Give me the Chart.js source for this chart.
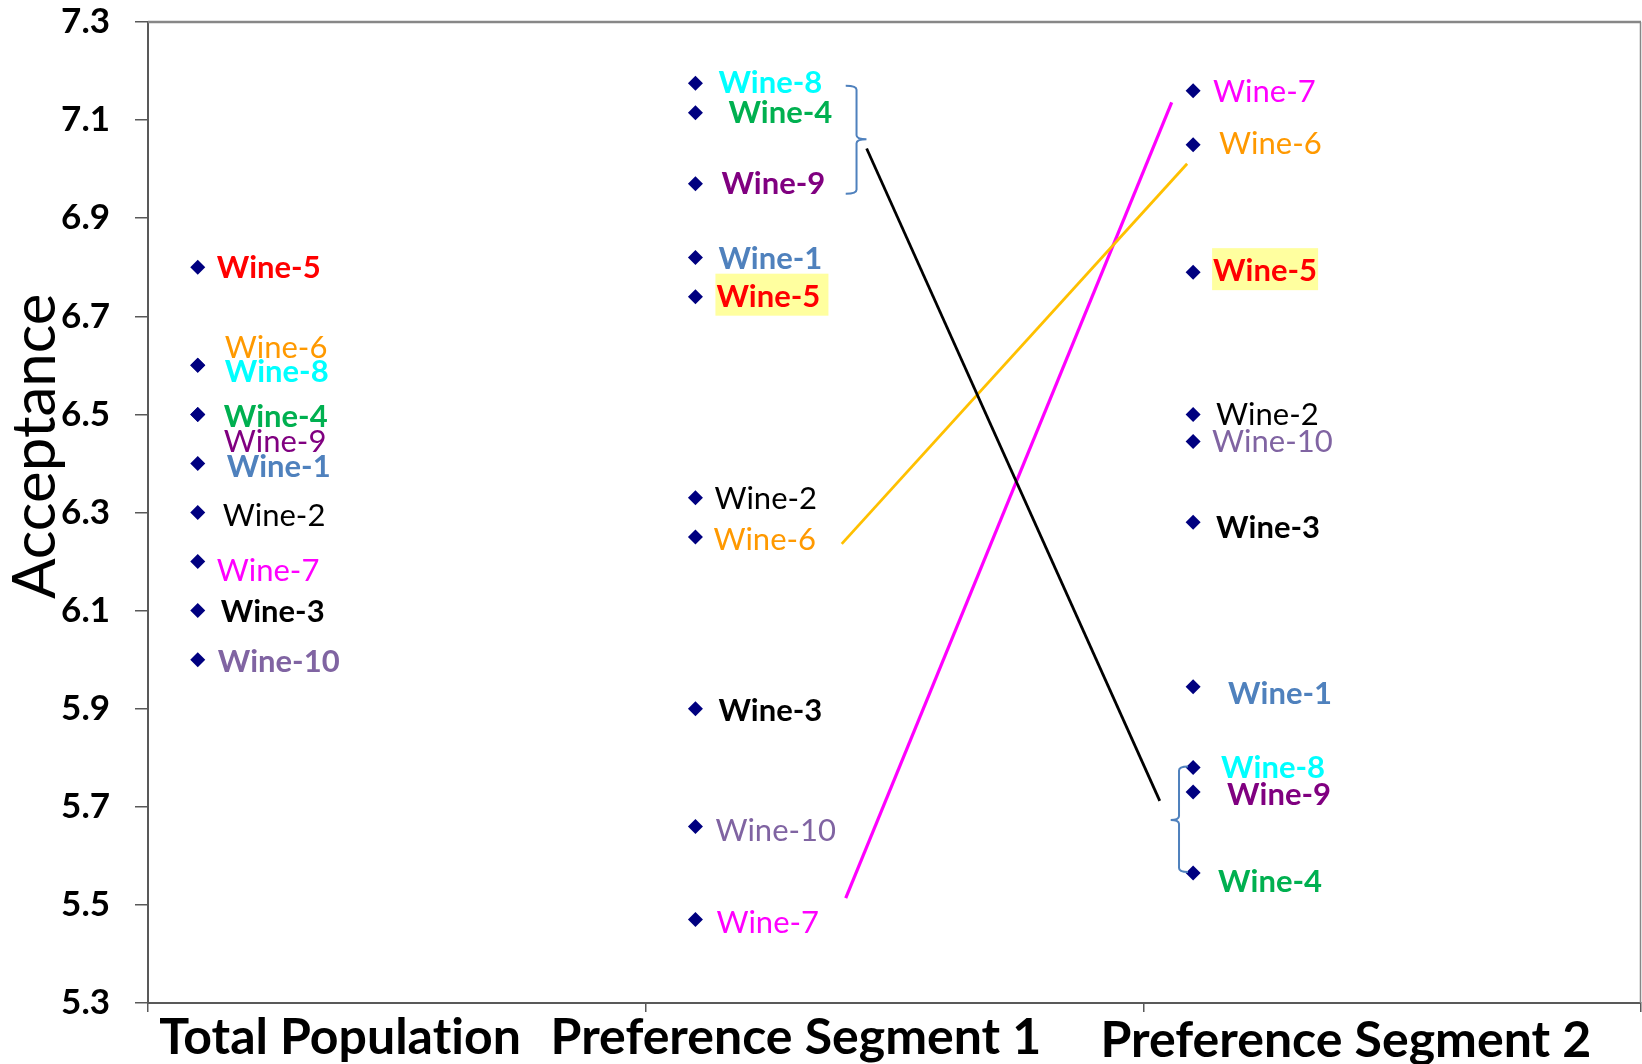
<!DOCTYPE html>
<html>
<head>
<meta charset="utf-8">
<script src="https://cdn.jsdelivr.net/npm/chart.js@4.4.1/dist/chart.umd.min.js"></script>
<style>
  html, body { margin: 0; padding: 0; background: #ffffff; }
  #wrap { width: 1642px; height: 1064px; }
</style>
</head>
<body>
<div id="wrap"><canvas id="chart" width="1642" height="1064"></canvas></div>
<script>
// ---- data ----
const categories = ['Total Population', 'Preference Segment 1', 'Preference Segment 2'];
const wines = ['Wine-1', 'Wine-2', 'Wine-3', 'Wine-4', 'Wine-5', 'Wine-6', 'Wine-7', 'Wine-8', 'Wine-9', 'Wine-10'];
const totalPopulation    = [6.40, 6.30, 6.10, 6.50, 6.80, 6.60, 6.20, 6.60, 6.50, 6.00];
const preferenceSegment1 = [6.82, 6.33, 5.90, 7.115, 6.74, 6.25, 5.47, 7.175, 6.97, 5.66];
const preferenceSegment2 = [5.945, 6.50, 6.28, 5.565, 6.79, 7.05, 7.16, 5.78, 5.73, 6.445];
const yTickValues = [5.3, 5.5, 5.7, 5.9, 6.1, 6.3, 6.5, 6.7, 6.9, 7.1, 7.3];

// connector lines between segment 1 and segment 2 (x in group units, y in acceptance)
const clusterShift = [{ x: 1.444, y: 7.042 }, { x: 2.033, y: 5.712 }];
const wine6Shift   = [{ x: 1.394, y: 6.236 }, { x: 2.088, y: 7.011 }];
const wine7Shift   = [{ x: 1.402, y: 5.514 }, { x: 2.057, y: 7.136 }];

// ---- styling ----
const groups = [totalPopulation, preferenceSegment1, preferenceSegment2];
const markerOffset = 0.1;
const wineColors = ['#4F81BD', '#000000', '#000000', '#00B050', '#FF0000',
                    '#FF9900', '#FF00FF', '#00FFFF', '#800080', '#8064A2'];
const labelBold = [
  [1, 0, 1, 1, 1, 0, 0, 1, 0, 1],
  [1, 0, 1, 1, 1, 0, 0, 1, 1, 0],
  [1, 0, 1, 1, 1, 0, 0, 1, 1, 0]
];
// label offsets from the marker, in pixels [dx, dy]
const labelOffsets = [
  [[29, 2], [25, 2], [23, 0], [26, 2], [19, 0], [27, -18], [19, 8], [27, 6], [26, 27], [20, 1]],
  [[23, 0], [19, 0], [23, 1], [33, -1], [21, -1], [18, 2], [21, 2], [23, -1], [26, -1], [20, 3]],
  [[35, 6], [23, 0], [23, 5], [25, 8], [20, -2], [26, -2], [20, 0], [28, -1], [34, 2], [19, 0]]
];
// highlighted labels: [group, wine index, box width]
const highlights = [[1, 4, 113], [2, 4, 106]];
// curly brackets grouping wines: spine x, hook x, tip x, top, bottom, tip y
const brackets = [
  { spine: 1.4237, hook: 1.402, tip: 1.4437, top: 7.170, bottom: 6.950, mid: 7.061 },
  { spine: 2.0717, hook: 2.0898, tip: 2.055, top: 5.782, bottom: 5.567, mid: 5.673 }
];
const categoryLabelX = [0.386, 1.302, 2.407];
const categoryBaseline = [51, 51, 54];

const FONT = 'Lato';
const labelSize = 31;

function plainText(ctx) {
  // no ligatures ("ti") in drawn text
  if ('textRendering' in ctx) ctx.textRendering = 'optimizeSpeed';
}

function drawBracket(ctx, x, y, b) {
  const xs = x.getPixelForValue(b.spine);
  const xh = x.getPixelForValue(b.hook);
  const xt = x.getPixelForValue(b.tip);
  const yt = y.getPixelForValue(b.top);
  const yb = y.getPixelForValue(b.bottom);
  const ym = y.getPixelForValue(b.mid);
  const r = 4;
  ctx.beginPath();
  ctx.moveTo(xh, yt);
  ctx.quadraticCurveTo(xs, yt, xs, yt + r);
  ctx.lineTo(xs, ym - r);
  ctx.quadraticCurveTo(xs, ym, xt, ym);
  ctx.quadraticCurveTo(xs, ym, xs, ym + r);
  ctx.lineTo(xs, yb - r);
  ctx.quadraticCurveTo(xs, yb, xh, yb);
  ctx.stroke();
}

const annotations = {
  id: 'wineAnnotations',
  afterDatasetsDraw(chart) {
    const { ctx, scales: { x, y } } = chart;
    ctx.save();
    plainText(ctx);
    // brackets
    ctx.strokeStyle = '#4F81BD';
    ctx.lineWidth = 2;
    brackets.forEach(b => drawBracket(ctx, x, y, b));

    // highlight boxes
    highlights.forEach(([g, i, w]) => {
      const pt = chart.getDatasetMeta(g).data[i];
      const [dx, dy] = labelOffsets[g][i];
      ctx.fillStyle = '#FFFF9F';
      ctx.fillRect(pt.x + dx - 1, pt.y + dy - 22, w, 42);
    });

    // wine labels
    ctx.textAlign = 'left';
    ctx.textBaseline = 'alphabetic';
    groups.forEach((vals, g) => {
      const meta = chart.getDatasetMeta(g);
      vals.forEach((v, i) => {
        const pt = meta.data[i];
        const [dx, dy] = labelOffsets[g][i];
        ctx.font = (labelBold[g][i] ? 'bold ' : '') + labelSize + 'px ' + FONT;
        ctx.fillStyle = wineColors[i];
        ctx.fillText(wines[i], pt.x + dx, pt.y + dy + labelSize * 0.358);
      });
    });
    ctx.restore();
  },
  afterDraw(chart) {
    const { ctx, chartArea: a, scales: { x, y } } = chart;
    ctx.save();
    plainText(ctx);
    // plot frame (top and right)
    ctx.strokeStyle = '#878787';
    ctx.lineWidth = 2.5;
    ctx.beginPath();
    ctx.moveTo(a.left, a.top);
    ctx.lineTo(a.right, a.top);
    ctx.stroke();
    ctx.lineWidth = 1.5;
    ctx.beginPath();
    ctx.moveTo(a.right - 0.5, a.top);
    ctx.lineTo(a.right - 0.5, a.bottom);
    ctx.stroke();

    // category labels
    ctx.fillStyle = '#000000';
    ctx.font = 'bold 50px ' + FONT;
    ctx.textAlign = 'center';
    ctx.textBaseline = 'alphabetic';
    categories.forEach((c, i) => {
      ctx.fillText(c, x.getPixelForValue(categoryLabelX[i]), a.bottom + categoryBaseline[i]);
    });

    // axis title
    ctx.font = '60px ' + FONT;
    ctx.translate(a.left - 93, y.getPixelForValue(6.435));
    ctx.rotate(-Math.PI / 2);
    ctx.fillText('Acceptance', 0, 0);
    ctx.restore();
  }
};

const datasets = groups.map((vals, g) => ({
  type: 'scatter',
  data: vals.map(v => ({ x: g + markerOffset, y: v })),
  pointStyle: 'rectRot',
  pointRadius: 7.5,
  pointHoverRadius: 7.5,
  backgroundColor: '#000080',
  borderColor: '#000080',
  borderWidth: 0,
  showLine: false
}));
[[clusterShift, '#000000', 2.8], [wine6Shift, '#FFC000', 2.8], [wine7Shift, '#FF00FF', 3.2]].forEach(([pts, color, w]) => {
  datasets.push({
    type: 'line',
    data: pts,
    borderColor: color,
    borderWidth: w,
    pointRadius: 0,
    fill: false,
    showLine: true
  });
});

new Chart(document.getElementById('chart'), {
  type: 'scatter',
  data: { datasets },
  options: {
    responsive: false,
    animation: false,
    devicePixelRatio: 1,
    layout: { autoPadding: false, padding: { left: 0, top: 22, right: 1, bottom: 0 } },
    plugins: { legend: { display: false }, tooltip: { enabled: false } },
    scales: {
      x: {
        type: 'linear',
        min: 0,
        max: 3,
        ticks: { display: false, stepSize: 1 },
        grid: { drawOnChartArea: false, drawTicks: true, tickLength: 9, color: '#595959', lineWidth: 1.5 },
        border: { display: true, color: '#595959', width: 2 },
        afterFit(scale) {
          scale.height = 61;
          scale.paddingLeft = 0;
          scale.paddingRight = 0;
        }
      },
      y: {
        type: 'linear',
        min: 5.3,
        max: 7.3,
        afterBuildTicks(scale) { scale.ticks = yTickValues.map(v => ({ value: v })); },
        ticks: {
          padding: 25,
          color: '#000000',
          font: { family: FONT, size: 35, weight: 'bold' },
          callback: v => Number(v).toFixed(1)
        },
        grid: { drawOnChartArea: false, drawTicks: true, tickLength: 13, color: '#595959', lineWidth: 1.5 },
        border: { display: true, color: '#595959', width: 2 },
        afterFit(scale) {
          scale.width = 148;
          scale.paddingTop = 0;
          scale.paddingBottom = 0;
        }
      }
    }
  },
  plugins: [annotations]
});
</script>
</body>
</html>
